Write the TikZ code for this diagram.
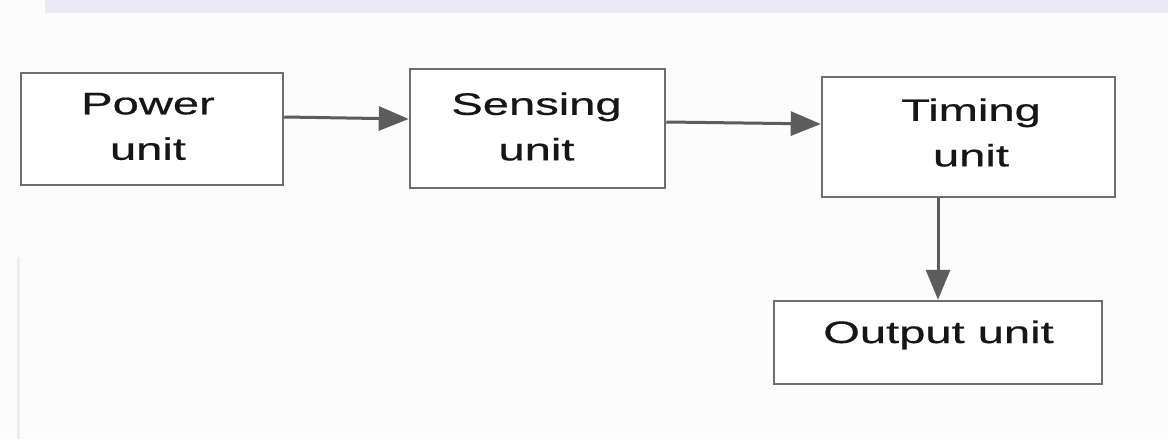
\documentclass[tikz,border=0pt]{standalone}
\usepackage{fontspec}
\setmainfont{Liberation Sans}
\newfontfamily\labelfont{Liberation Sans}[FakeBold=0.5]
\usetikzlibrary{arrows.meta}
\definecolor{boxgray}{HTML}{6E6E6E}
\definecolor{arrowgray}{HTML}{5C5C5C}
\definecolor{txt}{HTML}{161616}
\definecolor{band}{HTML}{ECE9F6}
\definecolor{edge}{HTML}{EDEDED}
\newcommand{\wide}[1]{\scalebox{1.52}[1]{#1}}
\tikzset{
  unitbox/.style={draw=boxgray, line width=2.5pt, rectangle, inner sep=0pt, fill=white},
  unitlabel/.style={text=txt, inner sep=0pt, align=center,
    font=\labelfont\fontsize{31}{45.5}\selectfont},
  flow/.style={draw=arrowgray, line width=3pt, -{Triangle[length=30pt,width=24pt]}}
}
\begin{document}
\begin{tikzpicture}[x=1pt,y=-1pt]
\useasboundingbox[fill=white!99!black] (0,0) rectangle (1168,439);
% faint background artefacts
\fill[band] (45,0) rectangle (1168,13);
\draw[edge, line width=3pt, line cap=round] (18,258) -- (18,439);
% boxes
\node[unitbox, minimum width=262pt, minimum height=112pt] (power) at (152,129) {};
\node[unitbox, minimum width=255pt, minimum height=119pt] (sensing) at (537.5,128.5) {};
\node[unitbox, minimum width=293pt, minimum height=120pt] (timing) at (968.5,137) {};
\node[unitbox, minimum width=328pt, minimum height=83pt] (output) at (938,342.5) {};
% labels
\node[unitlabel] (powert) at (148,126.5) {\wide{Power}\\\wide{unit}};
\node[unitlabel] (sensingt) at (536.5,126.5) {\wide{Sensing}\\\wide{unit}};
\node[unitlabel] (timingt) at (971,132.5) {\wide{Timing}\\\wide{unit}};
\node[unitlabel, anchor=base] (outputt) at (938.5,343) {\wide{Output unit}};
% connectors
\draw[flow] ([yshift=12pt]power.east) -- ([yshift=9.5pt]sensing.west);
\draw[flow] ([yshift=6.5pt]sensing.east) -- ([yshift=13pt]timing.west);
\draw[flow] ([xshift=-30.5pt]timing.south) -- (output.north);
\end{tikzpicture}
\end{document}
